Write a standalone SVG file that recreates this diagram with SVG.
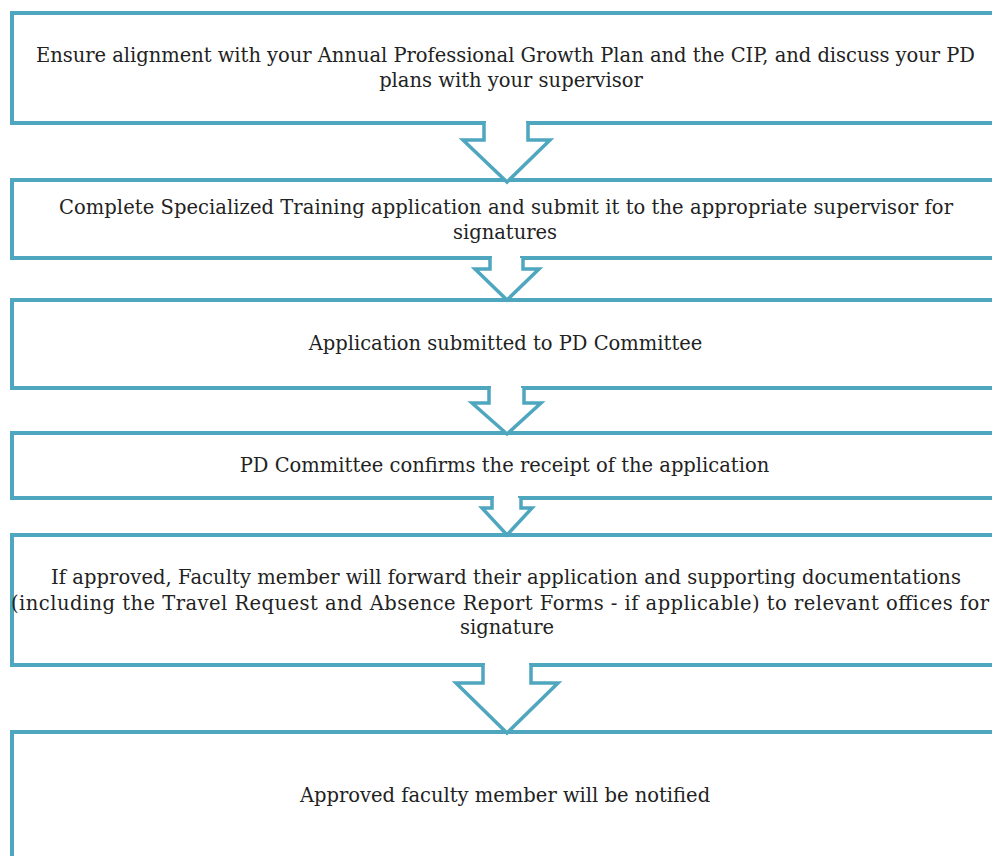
<svg xmlns="http://www.w3.org/2000/svg" width="992" height="856" viewBox="0 0 992 856">
<style>
.box{fill:#fff;stroke:#4FA6BF;stroke-width:4;stroke-linejoin:miter}
.arr{fill:#fff;stroke:#4FA6BF;stroke-width:3.5;stroke-linejoin:miter}
text{font-family:"DejaVu Serif","Liberation Serif",serif;font-size:19.5px;fill:#222;text-anchor:middle}
</style>
<rect width="992" height="856" fill="#fff"/>
<g id="n1">
<path class="box" d="M1000,13 H12 V123 H1000"/>
<text x="505.5" y="62" textLength="939" lengthAdjust="spacing">Ensure alignment with your Annual Professional Growth Plan and the CIP, and discuss your PD</text>
<text x="511" y="87">plans with your supervisor</text>
</g>
<g id="n2">
<path class="box" d="M1000,180 H12 V258 H1000"/>
<text x="506" y="214" textLength="894" lengthAdjust="spacing">Complete Specialized Training application and submit it to the appropriate supervisor for</text>
<text x="505" y="239">signatures</text>
</g>
<g id="n3">
<path class="box" d="M1000,300 H12 V388 H1000"/>
<text x="505.5" y="350">Application submitted to PD Committee</text>
</g>
<g id="n4">
<path class="box" d="M1000,433 H12 V498 H1000"/>
<text x="504.5" y="472">PD Committee confirms the receipt of the application</text>
</g>
<g id="n5">
<path class="box" d="M1000,535 H12 V665 H1000"/>
<text x="506" y="584" textLength="910" lengthAdjust="spacing">If approved, Faculty member will forward their application and supporting documentations</text>
<text x="500" y="610" textLength="978" lengthAdjust="spacing">(including the Travel Request and Absence Report Forms - if applicable) to relevant offices for</text>
<text x="507" y="634">signature</text>
</g>
<g id="n6">
<path class="box" d="M1000,732 H12 V870"/>
<text x="505" y="802">Approved faculty member will be notified</text>
</g>
<g id="connectors">
<rect x="486" y="119" width="40" height="8" fill="#fff"/>
<path class="arr" d="M484,123 V140 H463 L507,182 L550,140 H528 V123"/>
<rect x="492" y="254" width="28" height="8" fill="#fff"/>
<path class="arr" d="M490,258 V269 H475 L507,300 L539,269 H523 V258"/>
<rect x="491" y="384" width="30" height="8" fill="#fff"/>
<path class="arr" d="M489,388 V403 H472 L507,434 L541,403 H524 V388"/>
<rect x="494" y="494" width="24" height="8" fill="#fff"/>
<path class="arr" d="M492,498 V508 H482 L507,535 L532,508 H521 V498"/>
<rect x="485" y="661" width="44" height="8" fill="#fff"/>
<path class="arr" d="M483,665 V683 H456 L507,733 L558,683 H531 V665"/>
</g>
</svg>
